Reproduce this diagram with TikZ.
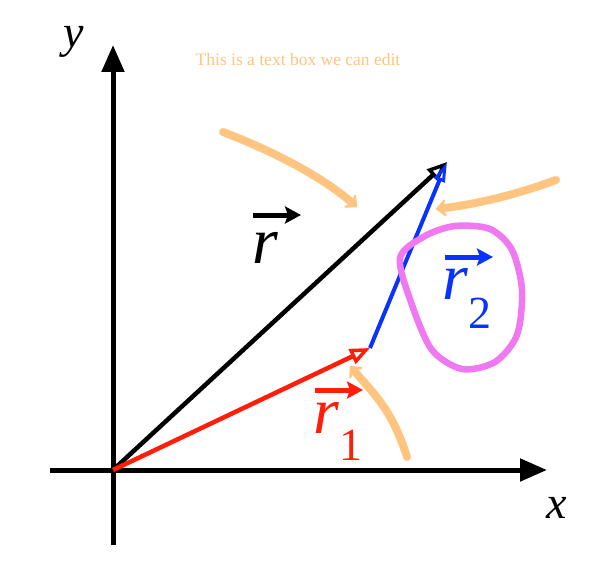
\documentclass[tikz,border=0pt]{standalone}
\usepackage{fontspec}
\setmainfont{Liberation Serif}
\usepackage{tikz}
\usetikzlibrary{arrows.meta, positioning, calc}
\definecolor{penorange}{RGB}{255,196,128}
\definecolor{penpink}{RGB}{240,120,240}
\definecolor{vecred}{RGB}{255,30,10}
\definecolor{vecblue}{RGB}{10,50,255}

\begin{document}
\begin{tikzpicture}[x=1pt, y=-1pt,
  axis/.style={line width=5pt, -{Triangle[length=27pt, width=22pt]}},
  vec/.style={line width=4.5pt, -{Triangle[open, length=20pt, width=16pt, line width=3.5pt]}},
  overarrow/.style={line width=5pt, -{Stealth[length=16pt, width=17pt, inset=3pt]}},
  pen/.style={penorange, line width=8pt, line cap=round, -{Stealth[length=12pt, width=22pt, inset=5pt, round]}},
  lab/.style={inner sep=0pt, font=\fontsize{66}{66}\selectfont\itshape},
  sub/.style={inner sep=0pt, font=\fontsize{46}{46}\selectfont},
  axlab/.style={inner sep=0pt, font=\fontsize{46}{46}\selectfont\itshape}]
\useasboundingbox (0,0) rectangle (592,567);

\coordinate (O) at (113,470);
\coordinate (xs) at (50,470);
\coordinate (xe) at (547,470);
\coordinate (ys) at (113,545);
\coordinate (ye) at (113,45);
\coordinate (A) at (370,348);
\coordinate (B) at (447,162);

\node[axlab] (xlab) at (557,508) {x};
\node[axlab] (ylab) at (74,42) {y};
\node[inner sep=0pt, text=penorange, font=\fontsize{17.5}{17.5}\selectfont] (note) at (298,60) {This is a text box we can edit};

\draw[axis] (xs) -- (xe);
\draw[axis] (ys) -- (ye);

\draw[vec] (O) -- (B);
\draw[vec, vecred] (O) -- (A);
\draw[vec, vecblue, line width=4pt, -{Triangle[open, length=20pt, width=11pt, line width=3pt]}] (A) -- (B);

\node[lab] (r) at (265,248) {r};
\coordinate (rv1) at (253,215);
\coordinate (rv2) at (301,215);
\draw[overarrow] (rv1) -- (rv2);

\node[lab, text=vecred] (r1) at (326,418) {r};
\node[sub, text=vecred, below right=-4pt and 0pt of r1] (one) {1};
\coordinate (r1v1) at (315,390);
\coordinate (r1v2) at (363,390);
\draw[overarrow, vecred] (r1v1) -- (r1v2);

\node[lab, text=vecblue] (r2) at (455,284) {r};
\node[sub, text=vecblue, below right=-2pt and 0pt of r2] (two) {2};
\coordinate (r2v1) at (445,257);
\coordinate (r2v2) at (493,257);
\draw[overarrow, vecblue] (r2v1) -- (r2v2);

\coordinate (p1s) at (223,132);
\coordinate (p1e) at (357,207);
\coordinate (p2s) at (556,180);
\coordinate (p2e) at (436,209);
\coordinate (p3s) at (407,457);
\coordinate (p3e) at (350,366);
\draw[pen] (p1s) .. controls (270,150) and (320,175) .. (p1e);
\draw[pen] (p2s) .. controls (510,197) and (470,205) .. (p2e);
\draw[pen] (p3s) .. controls (392,410) and (375,395) .. (p3e);

\draw[penpink, line width=6.5pt, line cap=round] plot[smooth cycle] coordinates {(400,258) (425,236) (455,226) (490,229) (512,250) (522,290) (517,335) (495,362) (462,369) (432,350) (412,305)};
\end{tikzpicture}
\end{document}
